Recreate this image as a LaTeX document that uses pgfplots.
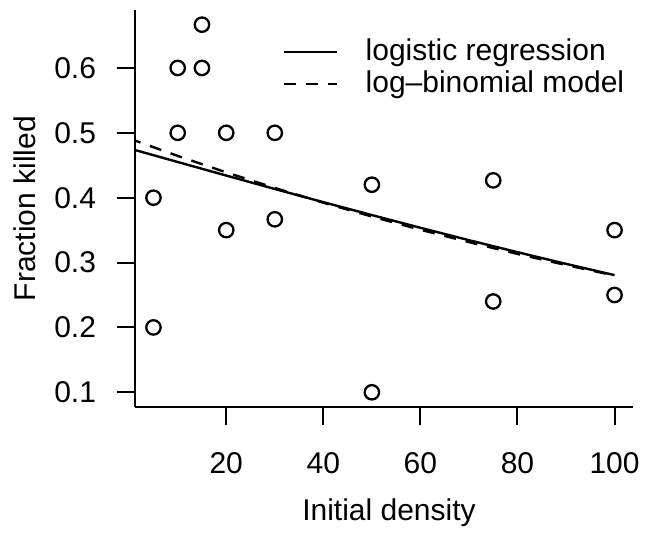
\documentclass[border=0pt]{standalone}
\usepackage{pgfplots}
\pgfplotsset{compat=1.18}
\usepackage{fontspec}
\setmainfont{Liberation Sans}
\begin{document}
\begin{tikzpicture}
\useasboundingbox (0,0) rectangle (326.5bp,268.5bp);
\begin{axis}[
  at={(67.5bp,65bp)}, anchor=south west,
  scale only axis, width=249bp, height=198.5bp,
  xmin=1.2, xmax=103.8, ymin=0.07733, ymax=0.68933,
  axis x line*=bottom, axis y line*=left,
  axis line style={line width=1.2bp, -},
  every tick/.style={line width=1bp, black},
  tick align=outside, major tick length=9bp,
  xtick={20,40,60,80,100},
  ytick={0.1,0.2,0.3,0.4,0.5,0.6},
  yticklabels={0.1,0.2,0.3,0.4,0.5,0.6},
  /pgf/number format/assume math mode=true,
  ticklabel style={font=\fontsize{15bp}{18bp}\selectfont},
  xticklabel style={anchor=center, yshift=-19bp},
  yticklabel style={anchor=east, xshift=-7bp},
  label style={font=\fontsize{15bp}{18bp}\selectfont},
  xlabel={Initial density},
  ylabel={Fraction killed},
  xlabel style={at={(axis description cs:0.51,-0.267)}, anchor=center},
  ylabel style={at={(axis description cs:-0.221,0.5)}, anchor=center},
  clip=true,
  legend image code/.code={\draw[#1] (0bp,0bp) -- (26.5bp,0bp);},
  legend cell align=left,
  legend style={draw=none, fill=none, font=\fontsize{15bp}{18bp}\selectfont,
    at={(axis description cs:0.295,0.93)}, anchor=north west,
    inner sep=0pt, row sep=2bp,
    nodes={inner sep=0pt, text height=11bp, text depth=3bp},
    /tikz/every odd column/.append style={column sep=14bp}},
]
\addplot[only marks, mark=o, mark size=3.6bp, mark options={line width=1.15bp, black}, forget plot] coordinates {
(5,0.2) (5,0.4) (10,0.6) (10,0.5) (15,0.6667) (15,0.6) (20,0.5) (20,0.35)
(30,0.5) (30,0.3667) (50,0.42) (50,0.1) (75,0.4267) (75,0.24) (100,0.35) (100,0.25)
};
\addplot[black, line width=1.2bp] coordinates {
(0,0.4760) (10,0.4550) (20,0.4341) (30,0.4134) (40,0.3931) (50,0.3732)
(60,0.3536) (70,0.3345) (80,0.3160) (90,0.2980) (100,0.2806)
};
\addlegendentry{logistic regression}
\addplot[black, line width=1.2bp, dash pattern=on 6bp off 5bp] coordinates {
(0,0.4913) (10,0.4644) (20,0.4390) (30,0.4150) (40,0.3923) (50,0.3709)
(60,0.3506) (70,0.3315) (80,0.3133) (90,0.2962) (100,0.2800)
};
\addlegendentry{log\textendash binomial model}
\end{axis}
\end{tikzpicture}
\end{document}
